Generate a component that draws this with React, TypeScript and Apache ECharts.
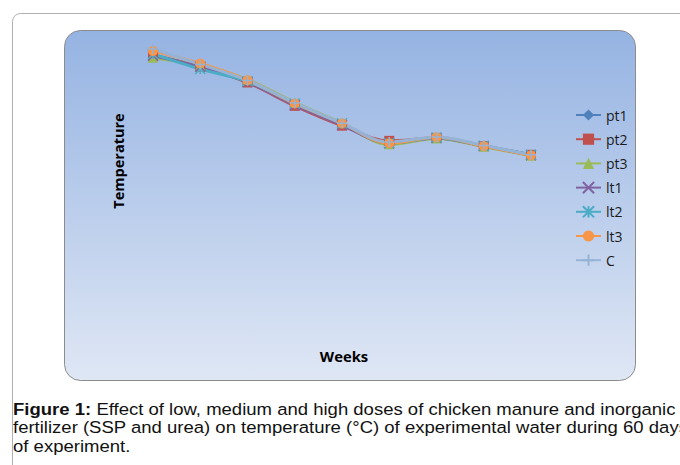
import React, { useEffect, useRef } from "react";
import * as echarts from "echarts";

const weeks = ["1", "2", "3", "4", "5", "6", "7", "8", "9"];
const pt1 = [31.15, 30.72, 30.22, 29.44, 28.76, 28.13, 28.30, 28.02, 27.71];
const pt2 = [31.10, 30.75, 30.20, 29.40, 28.72, 28.20, 28.30, 28.02, 27.72];
const pt3 = [31.05, 30.78, 30.30, 29.52, 28.80, 28.08, 28.28, 28.00, 27.69];
const lt1 = [31.12, 30.74, 30.22, 29.42, 28.74, 28.12, 28.30, 28.02, 27.71];
const lt2 = [31.18, 30.66, 30.24, 29.48, 28.80, 28.12, 28.31, 28.03, 27.72];
const lt3 = [31.28, 30.85, 30.28, 29.48, 28.80, 28.12, 28.32, 28.02, 27.70];
const cCtrl = [31.35, 30.82, 30.27, 29.50, 28.80, 28.16, 28.33, 28.04, 27.72];

const seriesNames = ["pt1", "pt2", "pt3", "lt1", "lt2", "lt3", "C"];
const seriesData = [pt1, pt2, pt3, lt1, lt2, lt3, cCtrl];
const colors = ["#4F81BD", "#C0504D", "#9BBB59", "#8064A2", "#4BACC6", "#F79646", "#95B3D7"];
const symbols = [
  "diamond",
  "rect",
  "triangle",
  "path://M0,0L10,10M10,0L0,10",
  "path://M0,0L10,10M10,0L0,10M5,0L5,10",
  "circle",
  "path://M5,0L5,10M0,5L10,5",
];
const strokeSymbols = [false, false, false, true, true, false, true];

const captionBold = "Figure 1:";
const captionText =
  " Effect of low, medium and high doses of chicken manure and inorganic\nfertilizer (SSP and urea) on temperature (°C) of experimental water during 60 days\nof experiment.";

export default function App() {
  const ref = useRef<HTMLDivElement>(null);
  useEffect(() => {
    if (!ref.current) return;
    const chart = echarts.init(ref.current, null, { renderer: "svg" });
    chart.setOption({
      animation: false,
      grid: { left: 153, right: 149, top: 30, bottom: 85 },
      xAxis: { type: "category", data: weeks, boundaryGap: false, show: false },
      yAxis: { type: "value", min: 20, max: 32, show: false, splitLine: { show: false } },
      legend: {
        orient: "vertical",
        left: 570,
        top: 103,
        itemWidth: 25,
        itemHeight: 14,
        itemGap: 10.2,
        textStyle: { fontFamily: "Open Sans", fontSize: 14, color: "#1a1a1a" },
        data: seriesNames,
      },
      graphic: [
        {
          type: "rect",
          z: -10,
          shape: { x: 12.5, y: 13.5, width: 720, height: 480, r: 8 },
          style: { fill: "#ffffff", stroke: "#b0b0b0", lineWidth: 1 },
        },
        {
          type: "rect",
          z: -9,
          shape: { x: 64.5, y: 30.5, width: 571, height: 350, r: 16 },
          style: {
            fill: new echarts.graphic.LinearGradient(0, 0, 0, 1, [
              { offset: 0, color: "#95B3E2" },
              { offset: 1, color: "#DFE7F5" },
            ]),
            stroke: "#8c8c8c",
            lineWidth: 1,
          },
        },
        {
          type: "text",
          x: 118,
          y: 161,
          rotation: Math.PI / 2,
          style: {
            text: "Temperature",
            fontFamily: "Open Sans",
            fontWeight: "bold",
            fontSize: 14.5,
            fill: "#000",
            align: "center",
            verticalAlign: "middle",
          },
        },
        {
          type: "text",
          x: 344,
          y: 356,
          style: {
            text: "Weeks",
            fontFamily: "Open Sans",
            fontWeight: "bold",
            fontSize: 14.8,
            fill: "#000",
            align: "center",
            verticalAlign: "middle",
          },
        },
        {
          type: "text",
          x: 13,
          y: 400,
          scaleX: 1.09,
          style: {
            text: "{b|" + captionBold + "}" + captionText,
            fontFamily: "Liberation Sans",
            fontSize: 17,
            lineHeight: 18.5,
            fill: "#111",
            rich: {
              b: { fontFamily: "Liberation Sans", fontWeight: "bold", fontSize: 17, lineHeight: 18.5, fill: "#111" },
            },
          },
        },
      ],
      series: seriesNames.map((name, i) => ({
        name,
        type: "line",
        data: seriesData[i],
        smooth: 0.35,
        symbol: symbols[i],
        symbolSize: 10,
        lineStyle: { color: colors[i], width: 3 },
        itemStyle: strokeSymbols[i]
          ? { color: colors[i], borderColor: colors[i], borderWidth: 1.5 }
          : { color: colors[i] },
      })),
    });
    return () => chart.dispose();
  }, []);
  return (
    <div
      ref={ref}
      style={{ position: "fixed", left: 0, top: 0, width: 680, height: 465, background: "#fff" }}
    />
  );
}
